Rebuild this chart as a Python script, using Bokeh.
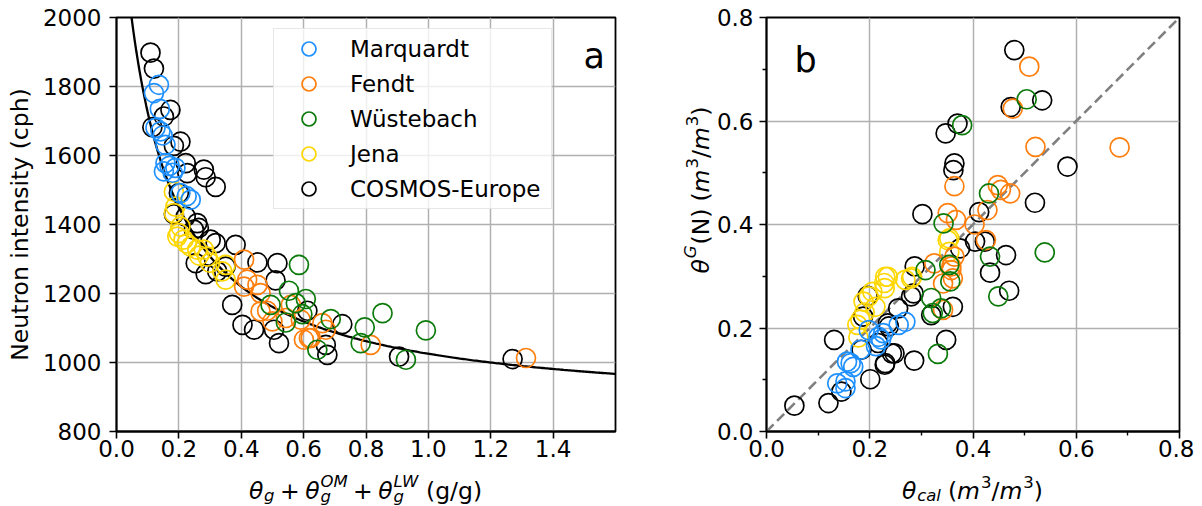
import numpy as np
from bokeh.plotting import figure
from bokeh.layouts import row, column
from bokeh.models import FixedTicker, PrintfTickFormatter, Range1d, Legend, LegendItem, Label
from bokeh.embed import file_html
from bokeh.resources import INLINE

# ---------------- data: panel a (total water content vs neutron intensity) ----------------
a_marq_x = [0.136, 0.120, 0.139, 0.125, 0.141, 0.148, 0.157, 0.157, 0.152, 0.189, 0.180, 0.170, 0.205, 0.238, 0.225]
a_marq_n = [1805, 1781, 1735, 1680, 1670, 1658, 1631, 1578, 1554, 1564, 1550, 1570, 1491, 1472, 1482]

a_fendt_x = [0.409, 0.419, 0.409, 0.452, 0.462, 0.462, 0.483, 0.500, 0.543, 0.559, 0.591, 0.601, 0.623, 0.660, 0.671, 0.617, 0.815, 1.313]
a_fendt_n = [1298, 1240, 1220, 1225, 1201, 1148, 1150, 1119, 1129, 1167, 1124, 1066, 1071, 1114, 1095, 1071, 1051, 1013]

a_wues_x = [0.585, 0.553, 0.607, 0.494, 0.575, 0.596, 0.543, 0.687, 0.796, 0.853, 0.992, 0.783, 0.644, 0.928]
a_wues_n = [1283, 1208, 1184, 1167, 1172, 1140, 1116, 1126, 1102, 1143, 1093, 1056, 1037, 1008]

a_jena_x = [0.184, 0.189, 0.184, 0.205, 0.195, 0.215, 0.200, 0.238, 0.259, 0.280, 0.291, 0.339, 0.350, 0.350, 0.300, 0.225, 0.265]
a_jena_n = [1495, 1452, 1433, 1394, 1365, 1356, 1375, 1336, 1327, 1327, 1307, 1264, 1240, 1283, 1289, 1345, 1310]

a_cosmos_x = [0.109, 0.120, 0.173, 0.115, 0.152, 0.205, 0.184, 0.222, 0.227, 0.280, 0.286, 0.318, 0.200,
              0.184, 0.222, 0.259, 0.248, 0.264, 0.302, 0.318, 0.382, 0.254, 0.286, 0.323, 0.350, 0.452,
              0.516, 0.510, 0.371, 0.404, 0.441, 0.505, 0.521, 0.612, 0.724, 0.671, 0.676, 0.906, 1.270]
a_cosmos_n = [1898, 1852, 1732, 1682, 1713, 1640, 1628, 1578, 1549, 1559, 1537, 1509, 1491,
              1430, 1423, 1404, 1385, 1390, 1356, 1346, 1341, 1288, 1256, 1264, 1278, 1290,
              1288, 1238, 1167, 1109, 1095, 1095, 1056, 1150, 1111, 1051, 1022, 1017, 1010]

# fitted calibration curve parameters: N = N0 * (a0 / (theta + a2) + a1)
N0 = 2307.0
a0, a1, a2 = 0.0808, 0.372, 0.115

# ---------------- data: panel b (theta_cal vs theta_G(N)) ----------------
b_marq_x = [0.269, 0.256, 0.217, 0.222, 0.198, 0.212, 0.182, 0.163, 0.156, 0.168, 0.153, 0.137, 0.153, 0.226]
b_marq_y = [0.212, 0.206, 0.183, 0.178, 0.196, 0.165, 0.158, 0.132, 0.135, 0.125, 0.097, 0.093, 0.084, 0.190]

b_fendt_x = [0.509, 0.477, 0.521, 0.684, 0.364, 0.448, 0.454, 0.472, 0.428, 0.351, 0.367, 0.403, 0.425, 0.325,
             0.358, 0.361, 0.342, 0.342, 0.358, 0.364]
b_fendt_y = [0.705, 0.624, 0.550, 0.549, 0.474, 0.476, 0.467, 0.460, 0.428, 0.422, 0.409, 0.400, 0.370, 0.325,
             0.319, 0.296, 0.286, 0.235, 0.312, 0.338]

b_wues_x = [0.379, 0.504, 0.431, 0.343, 0.433, 0.539, 0.354, 0.308, 0.356, 0.319, 0.322, 0.338, 0.449, 0.332]
b_wues_y = [0.592, 0.642, 0.460, 0.402, 0.338, 0.346, 0.322, 0.312, 0.290, 0.258, 0.229, 0.238, 0.261, 0.150]

b_jena_x = [0.230, 0.228, 0.198, 0.188, 0.182, 0.176, 0.178, 0.211, 0.269, 0.282, 0.235, 0.280, 0.354, 0.354,
            0.229, 0.190, 0.205, 0.351]
b_jena_y = [0.299, 0.287, 0.261, 0.251, 0.216, 0.206, 0.182, 0.241, 0.293, 0.299, 0.299, 0.296, 0.373, 0.347,
            0.277, 0.230, 0.270, 0.370]

b_cosmos_x = [0.480, 0.473, 0.534, 0.370, 0.347, 0.364, 0.362, 0.583, 0.302, 0.520, 0.412, 0.404, 0.423, 0.464,
              0.433, 0.470, 0.375, 0.287, 0.196, 0.280, 0.285, 0.255, 0.361, 0.319, 0.187, 0.131, 0.348, 0.235,
              0.248, 0.229, 0.286, 0.201, 0.184, 0.145, 0.120, 0.054, 0.216, 0.230, 0.243, 0.237]
b_cosmos_y = [0.737, 0.627, 0.640, 0.595, 0.576, 0.518, 0.505, 0.512, 0.420, 0.442, 0.424, 0.367, 0.367, 0.341,
              0.307, 0.272, 0.354, 0.319, 0.262, 0.261, 0.267, 0.238, 0.241, 0.225, 0.222, 0.177, 0.177, 0.209,
              0.151, 0.129, 0.137, 0.101, 0.158, 0.077, 0.055, 0.050, 0.171, 0.132, 0.151, 0.203]

site_names = ["Marquardt", "Fendt", "Wüstebach", "Jena", "COSMOS-Europe"]
site_colors = ["#1e90ff", "#ff7f0e", "#0b7a0b", "#ffd700", "#000000"]

a_xticks = [0.0, 0.2, 0.4, 0.6, 0.8, 1.0, 1.2, 1.4]
a_yticks = [800, 1000, 1200, 1400, 1600, 1800, 2000]
b_ticks = [0.0, 0.2, 0.4, 0.6, 0.8]
b_minor = [0.1, 0.3, 0.5, 0.7]
a_xlim = (0.0, 1.6)
a_ylim = (800, 2000)
b_lim = [0.0, 0.8]

FONT = "DejaVu Sans"
TICK_PX = "23px"
LAB = 23.5
SUB = 16.5

CW = {'θ': 0.602, 'g': 0.635, 'O': 0.787, 'M': 0.863, 'L': 0.557, 'W': 0.989, 'c': 0.55, 'a': 0.613,
      'l': 0.278, 'm': 0.974, '3': 0.636, '/': 0.337, '(': 0.39, ')': 0.39, 'N': 0.748, 'G': 0.775,
      '+': 0.838, ' ': 0.318}


def text_w(s, size):
    return sum(CW.get(ch, 0.6) for ch in s) * size


def place_math(p, groups, center, base, vertical=False):
    widths = [(max([text_w(t, s) for t, s, i, sh in g]) if g else 0) + extra for g, extra in groups]
    cur = center - sum(widths) / 2.0
    for (g, extra), w in zip(groups, widths):
        for t, s, it, sh in g:
            kw = dict(text=t, x_units="screen", y_units="screen", text_font=FONT,
                      text_font_size=f"{s}px", text_font_style="italic" if it else "normal",
                      text_color="black", text_align="left", text_baseline="alphabetic")
            if vertical:
                lab = Label(x=base - sh, y=cur, angle=np.pi / 2, **kw)
            else:
                lab = Label(x=cur, y=base + sh, **kw)
            p.add_layout(lab)
        cur += w


def style(p):
    p.outline_line_color = "black"
    p.outline_line_width = 1.8
    p.outline_line_alpha = 1.0
    p.background_fill_color = "white"
    p.border_fill_color = "white"
    for ax in (p.xaxis[0], p.yaxis[0]):
        ax.axis_line_width = 1.8
        ax.axis_line_color = "black"
        ax.major_tick_line_width = 1.6
        ax.major_tick_line_color = "black"
        ax.major_tick_out = 7
        ax.major_tick_in = 0
        ax.minor_tick_out = 4
        ax.minor_tick_in = 0
        ax.minor_tick_line_width = 1.4
        ax.minor_tick_line_color = "black"
        ax.major_label_text_font = FONT
        ax.major_label_text_font_size = TICK_PX
        ax.major_label_text_color = "black"
        ax.axis_label_text_font = FONT
        ax.axis_label_text_font_size = f"{LAB}px"
        ax.axis_label_text_font_style = "normal"
        ax.axis_label_text_color = "black"
    p.xaxis.major_label_standoff = 1
    p.yaxis.major_label_standoff = 8
    p.grid.grid_line_color = "#b0b0b0"
    p.grid.grid_line_width = 1.5


def strip(w, h):
    s = figure(width=w, height=h, x_range=Range1d(0, w), y_range=Range1d(0, h),
               x_axis_type=None, y_axis_type=None, toolbar_location=None,
               output_backend="svg", min_border=0)
    s.outline_line_color = None
    s.background_fill_color = "white"
    s.border_fill_color = "white"
    s.grid.visible = False
    return s


TOP_H = 466
BOT_H = 506 - TOP_H

# ---------------- panel a ----------------
p1 = figure(width=658, height=TOP_H, x_range=Range1d(*a_xlim), y_range=Range1d(*a_ylim),
            output_backend="svg", toolbar_location=None,
            min_border_left=116, min_border_right=43, min_border_top=17, min_border_bottom=35)
style(p1)
p1.xaxis.ticker = FixedTicker(ticks=a_xticks, minor_ticks=[])
p1.yaxis.ticker = FixedTicker(ticks=a_yticks, minor_ticks=[])
p1.xaxis.formatter = PrintfTickFormatter(format="%.1f")
p1.yaxis.axis_label = "Neutron intensity (cph)"
p1.yaxis.axis_label_standoff = 6

x_start = a0 / (a_ylim[1] / N0 - a1) - a2
theta_curve = np.linspace(x_start, a_xlim[1], 300)
n_curve = N0 * (a0 / (theta_curve + a2) + a1)
p1.line(theta_curve, n_curve, line_color="black", line_width=2.3)

a_sets = [(a_marq_x, a_marq_n), (a_fendt_x, a_fendt_n), (a_wues_x, a_wues_n), (a_jena_x, a_jena_n),
          (a_cosmos_x, a_cosmos_n)]
draw_order = [4, 3, 1, 2, 0]
renderers = {}
for k in draw_order:
    xs, ys = a_sets[k]
    renderers[k] = p1.scatter(xs, ys, marker="circle", size=19, fill_color=None,
                              line_color=site_colors[k], line_width=1.7)

legend = Legend(items=[LegendItem(label=site_names[k], renderers=[renderers[k]]) for k in range(5)],
                location=(157, 222))
legend.padding = 2
legend.margin = 0
legend.spacing = 0
legend.glyph_width = 65
legend.glyph_height = 35
legend.label_height = 35
legend.label_standoff = 9
legend.label_width = 199
legend.label_text_font = FONT
legend.label_text_font_size = "23px"
legend.label_text_color = "black"
legend.border_line_color = "#d0d0d0"
legend.border_line_width = 1.2
legend.background_fill_color = "white"
legend.background_fill_alpha = 0.8
p1.add_layout(legend)

p1.add_layout(Label(x=467, y=376, x_units="screen", y_units="screen", text="a",
                    text_font=FONT, text_font_size="35px", text_color="black",
                    text_baseline="alphabetic"))

# ---------------- panel b ----------------
p2 = figure(width=481, height=TOP_H, x_range=Range1d(*b_lim), y_range=Range1d(*b_lim),
            output_backend="svg", toolbar_location=None,
            min_border_left=52, min_border_right=15, min_border_top=17, min_border_bottom=35)
style(p2)
p2.yaxis.major_label_standoff = 6
p2.xaxis.ticker = FixedTicker(ticks=b_ticks, minor_ticks=b_minor)
p2.yaxis.ticker = FixedTicker(ticks=b_ticks, minor_ticks=b_minor)
p2.xaxis.formatter = PrintfTickFormatter(format="%.1f")
p2.yaxis.formatter = PrintfTickFormatter(format="%.1f")

p2.line(b_lim, b_lim, line_color="#808080", line_width=2.6, line_dash="10 5")

b_sets = [(b_marq_x, b_marq_y), (b_fendt_x, b_fendt_y), (b_wues_x, b_wues_y), (b_jena_x, b_jena_y),
          (b_cosmos_x, b_cosmos_y)]
for k in draw_order:
    xs, ys = b_sets[k]
    p2.scatter(xs, ys, marker="circle", size=19, fill_color=None,
               line_color=site_colors[k], line_width=1.7)

p2.add_layout(Label(x=28, y=372, x_units="screen", y_units="screen", text="b",
                    text_font=FONT, text_font_size="35px", text_color="black",
                    text_baseline="alphabetic"))

# ---------------- axis labels with math notation (text strips) ----------------
F, S = LAB, SUB
plus = [([], 5.5), ([("+", F, False, 0)], 5.5)]
groups_a = ([([("θ", F, True, 0)], 1), ([("g", S, True, -5)], 0)] + plus +
            [([("θ", F, True, 0)], 1), ([("OM", S, True, 9), ("g", S, True, -6)], 0)] + plus +
            [([("θ", F, True, 0)], 1), ([("LW", S, True, 9), ("g", S, True, -6)], 0),
             ([], 7), ([("(g/g)", F, False, 0)], 0)])
unit = [([], 7), ([("(", F, False, 0)], 0), ([("m", F, True, 0)], 1), ([("3", S, False, 9)], 0),
        ([("/", F, False, 0)], 0), ([("m", F, True, 0)], 1), ([("3", S, False, 9)], 0),
        ([(")", F, False, 0)], 0)]
groups_bx = [([("θ", F, True, 0)], 1), ([("cal", S, True, -5)], 0)] + unit
groups_by = [([("θ", F, True, 0)], 1), ([("G", S, True, 10)], 1), ([("(N)", F, False, 0)], 0)] + unit

s_y = strip(55, TOP_H)
place_math(s_y, groups_by, center=TOP_H - 224.5, base=42, vertical=True)

s_xa = strip(658, BOT_H)
place_math(s_xa, groups_a, center=365, base=16)

s_xb = strip(536, BOT_H)
place_math(s_xb, groups_bx, center=314, base=16)

layout = column(row(p1, s_y, p2), row(s_xa, s_xb))
open("out.html", "w").write(file_html(layout, INLINE))
